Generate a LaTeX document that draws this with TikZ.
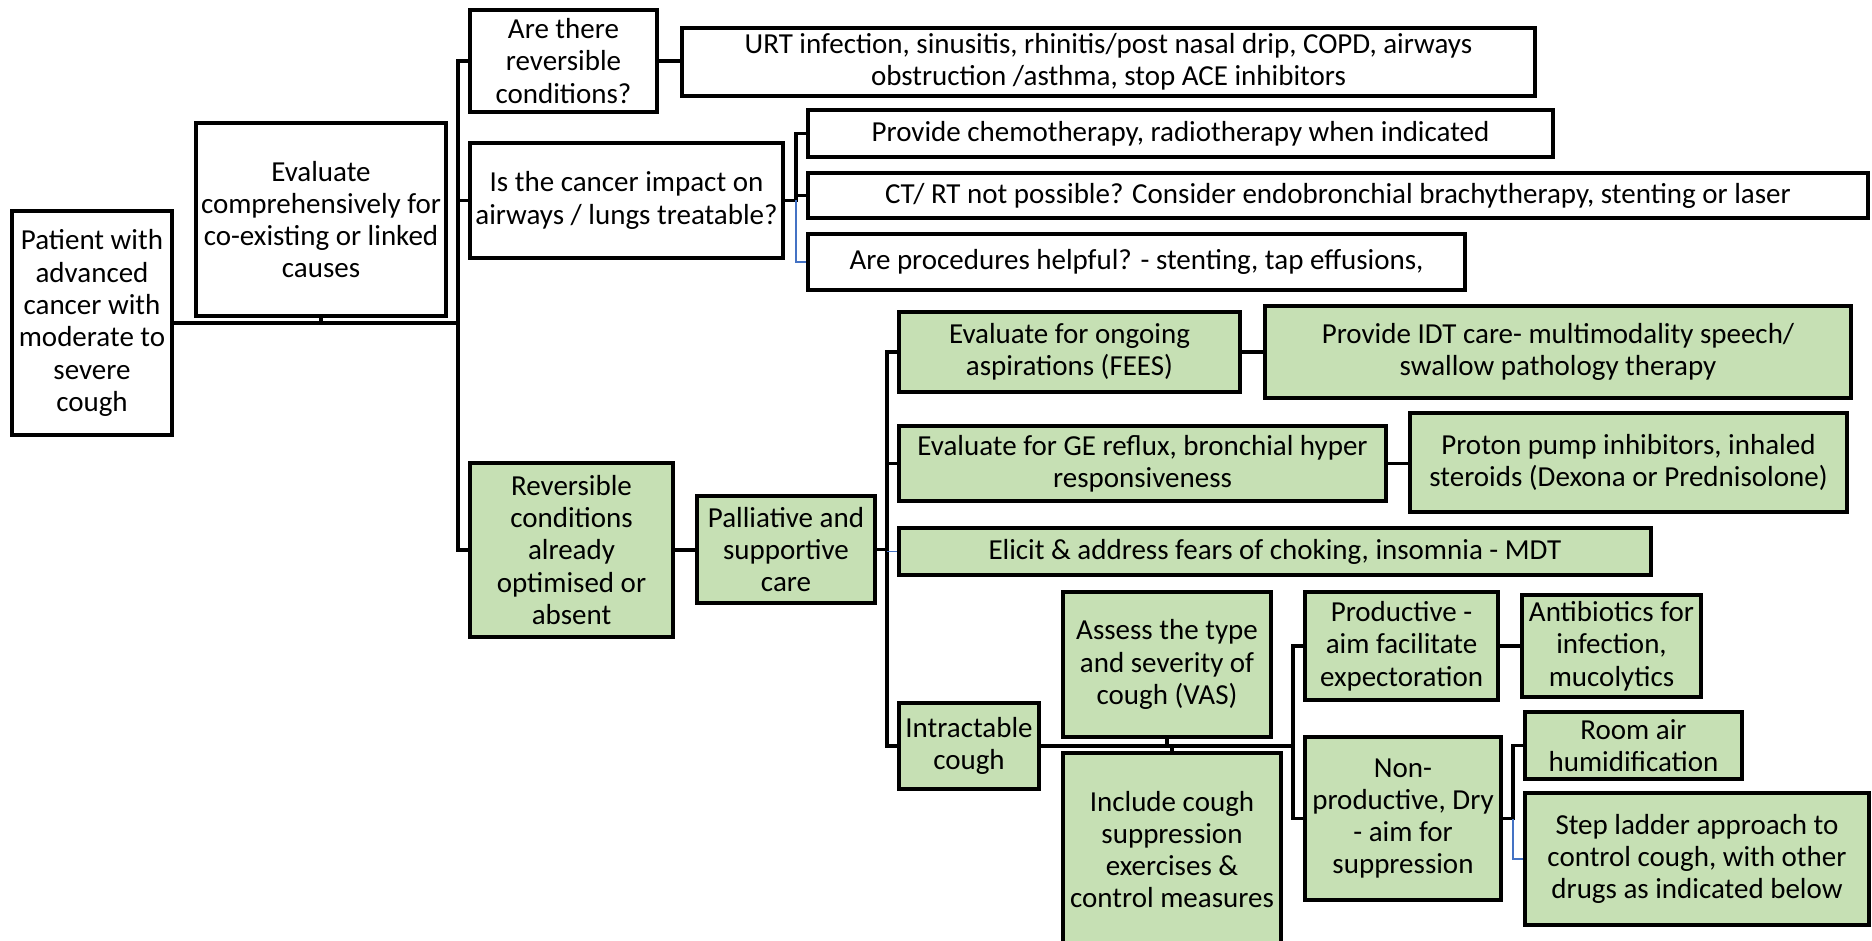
\documentclass[tikz,border=0pt]{standalone}
\usepackage{fontspec}
\setmainfont{Carlito}
\definecolor{boxgreen}{RGB}{198,224,180}
\definecolor{linkblue}{RGB}{68,114,196}
\newcommand{\flbox}[7]{%
  \pgfmathsetmacro{\pw}{#4-#2}%
  \pgfmathsetmacro{\ph}{#5-#3}%
  \pgfmathsetmacro{\pcx}{(#2+#4)/2}%
  \pgfmathsetmacro{\pcy}{-(#3+#5)/2}%
  \node[#6, minimum width=\pw pt, minimum height=\ph pt] (#1) at (\pcx pt,\pcy pt) {#7};}
\tikzset{
  wbox/.style={draw=black, line width=3.8pt, fill=white, align=center, inner sep=1pt,
    font=\fontsize{29}{32.3}\selectfont},
  gbox/.style={wbox, fill=boxgreen},
  conn/.style={line width=3.2pt, draw=black},
  bconn/.style={line width=1.8pt, draw=linkblue},
}
\begin{document}
\begin{tikzpicture}
\useasboundingbox (0,0) rectangle (1872pt,-941pt);
% white boxes
\flbox{patient}{12}{211}{172}{435}{wbox}{Patient with\\advanced\\cancer with\\moderate to\\severe\\cough}
\flbox{evalc}{196}{123}{446}{316}{wbox}{Evaluate\\comprehensively for\\co-existing or linked\\causes}
\flbox{arethere}{470}{10}{657}{112}{wbox}{Are there\\reversible\\conditions?}
\flbox{urt}{682}{28}{1535}{96}{wbox}{URT infection, sinusitis, rhinitis/post nasal drip, COPD, airways\\obstruction /asthma, stop ACE inhibitors}
\flbox{cancer}{470}{143}{783}{258}{wbox}{Is the cancer impact on\\airways / lungs treatable?}
\flbox{chemo}{808}{110}{1553}{157}{wbox}{Provide chemotherapy, radiotherapy when indicated}
\flbox{ctrt}{808}{173}{1868}{218}{wbox}{CT/ RT not possible? Consider endobronchial brachytherapy, stenting or laser}
\flbox{proc}{808}{234}{1465}{290}{wbox}{Are procedures helpful? - stenting, tap effusions,}
% green boxes
\flbox{rev}{470}{463}{673}{637}{gbox}{Reversible\\conditions\\already\\optimised or\\absent}
\flbox{pall}{697}{496}{875}{603}{gbox}{Palliative and\\supportive\\care}
\flbox{fees}{899}{312}{1240}{392}{gbox}{Evaluate for ongoing\\aspirations (FEES)}
\flbox{idt}{1265}{306}{1851}{398}{gbox}{Provide IDT care- multimodality speech/\\swallow pathology therapy}
\flbox{ge}{899}{426}{1386}{501}{gbox}{Evaluate for GE reflux, bronchial hyper\\responsiveness}
\flbox{proton}{1410}{413}{1847}{512}{gbox}{Proton pump inhibitors, inhaled\\steroids (Dexona or Prednisolone)}
\flbox{elicit}{899}{528}{1651}{575}{gbox}{Elicit \& address fears of choking, insomnia - MDT}
\flbox{intract}{899}{703}{1039}{789}{gbox}{Intractable\\cough}
\flbox{assess}{1063}{592}{1271}{737}{gbox}{Assess the type\\and severity of\\cough (VAS)}
\flbox{include}{1063}{753}{1281}{946}{gbox}{Include cough\\suppression\\exercises \&\\control measures}
\flbox{prod}{1305}{592}{1498}{700}{gbox}{Productive -\\aim facilitate\\expectoration}
\flbox{antib}{1522}{595}{1701}{697}{gbox}{Antibiotics for\\infection,\\mucolytics}
\flbox{nonprod}{1305}{737}{1501}{900}{gbox}{Non-\\productive, Dry\\- aim for\\suppression}
\flbox{room}{1525}{712}{1742}{779}{gbox}{Room air\\humidification}
\flbox{step}{1525}{793}{1869}{925}{gbox}{Step ladder approach to\\control cough, with other\\drugs as indicated below}
% bus coordinates
\coordinate (b1) at (458pt,0pt);
\coordinate (b2) at (796pt,0pt);
\coordinate (b3) at (887pt,0pt);
\coordinate (b4) at (1293pt,0pt);
\coordinate (b5) at (1513pt,0pt);
% connectors
\draw[conn] (patient.east) -- (patient.east -| b1);
\draw[conn] (evalc.south) -- (evalc.south |- patient.east);
\draw[conn] (arethere.west) -- (arethere.west -| b1) -- (rev.west -| b1) -- (rev.west);
\draw[conn] (cancer.west) -- (cancer.west -| b1);
\draw[conn] (arethere.east) -- (arethere.east -| urt.west);
\draw[conn] (chemo.west) -- (chemo.west -| b2) -- (cancer.east -| b2) -- (cancer.east);
\draw[conn] (ctrt.west) -- (ctrt.west -| b2);
\draw[bconn] (cancer.east -| b2) -- (proc.west -| b2) -- (proc.west);
\draw[conn] (rev.east) -- (rev.east -| pall.west);
\draw[conn] (fees.west) -- (fees.west -| b3) -- (intract.west -| b3) -- (intract.west);
\draw[conn] (ge.west) -- (ge.west -| b3);
\draw[conn] (pall.east) -- (pall.east -| b3);
\draw[bconn] (elicit.west -| b3) -- (elicit.west);
\draw[conn] (fees.east) -- (fees.east -| idt.west);
\draw[conn] (ge.east) -- (ge.east -| proton.west);
\draw[conn] (intract.east) -- (intract.east -| b4);
\draw[conn] (assess.south) -- (assess.south |- intract.east);
\draw[conn] (include.north) -- (include.north |- intract.east);
\draw[conn] (prod.west) -- (prod.west -| b4) -- (nonprod.west -| b4) -- (nonprod.west);
\draw[conn] (prod.east) -- (prod.east -| antib.west);
\draw[conn] (room.west) -- (room.west -| b5) -- (nonprod.east -| b5) -- (nonprod.east);
\draw[bconn] (nonprod.east -| b5) -- (step.west -| b5) -- (step.west);
\end{tikzpicture}
\end{document}
